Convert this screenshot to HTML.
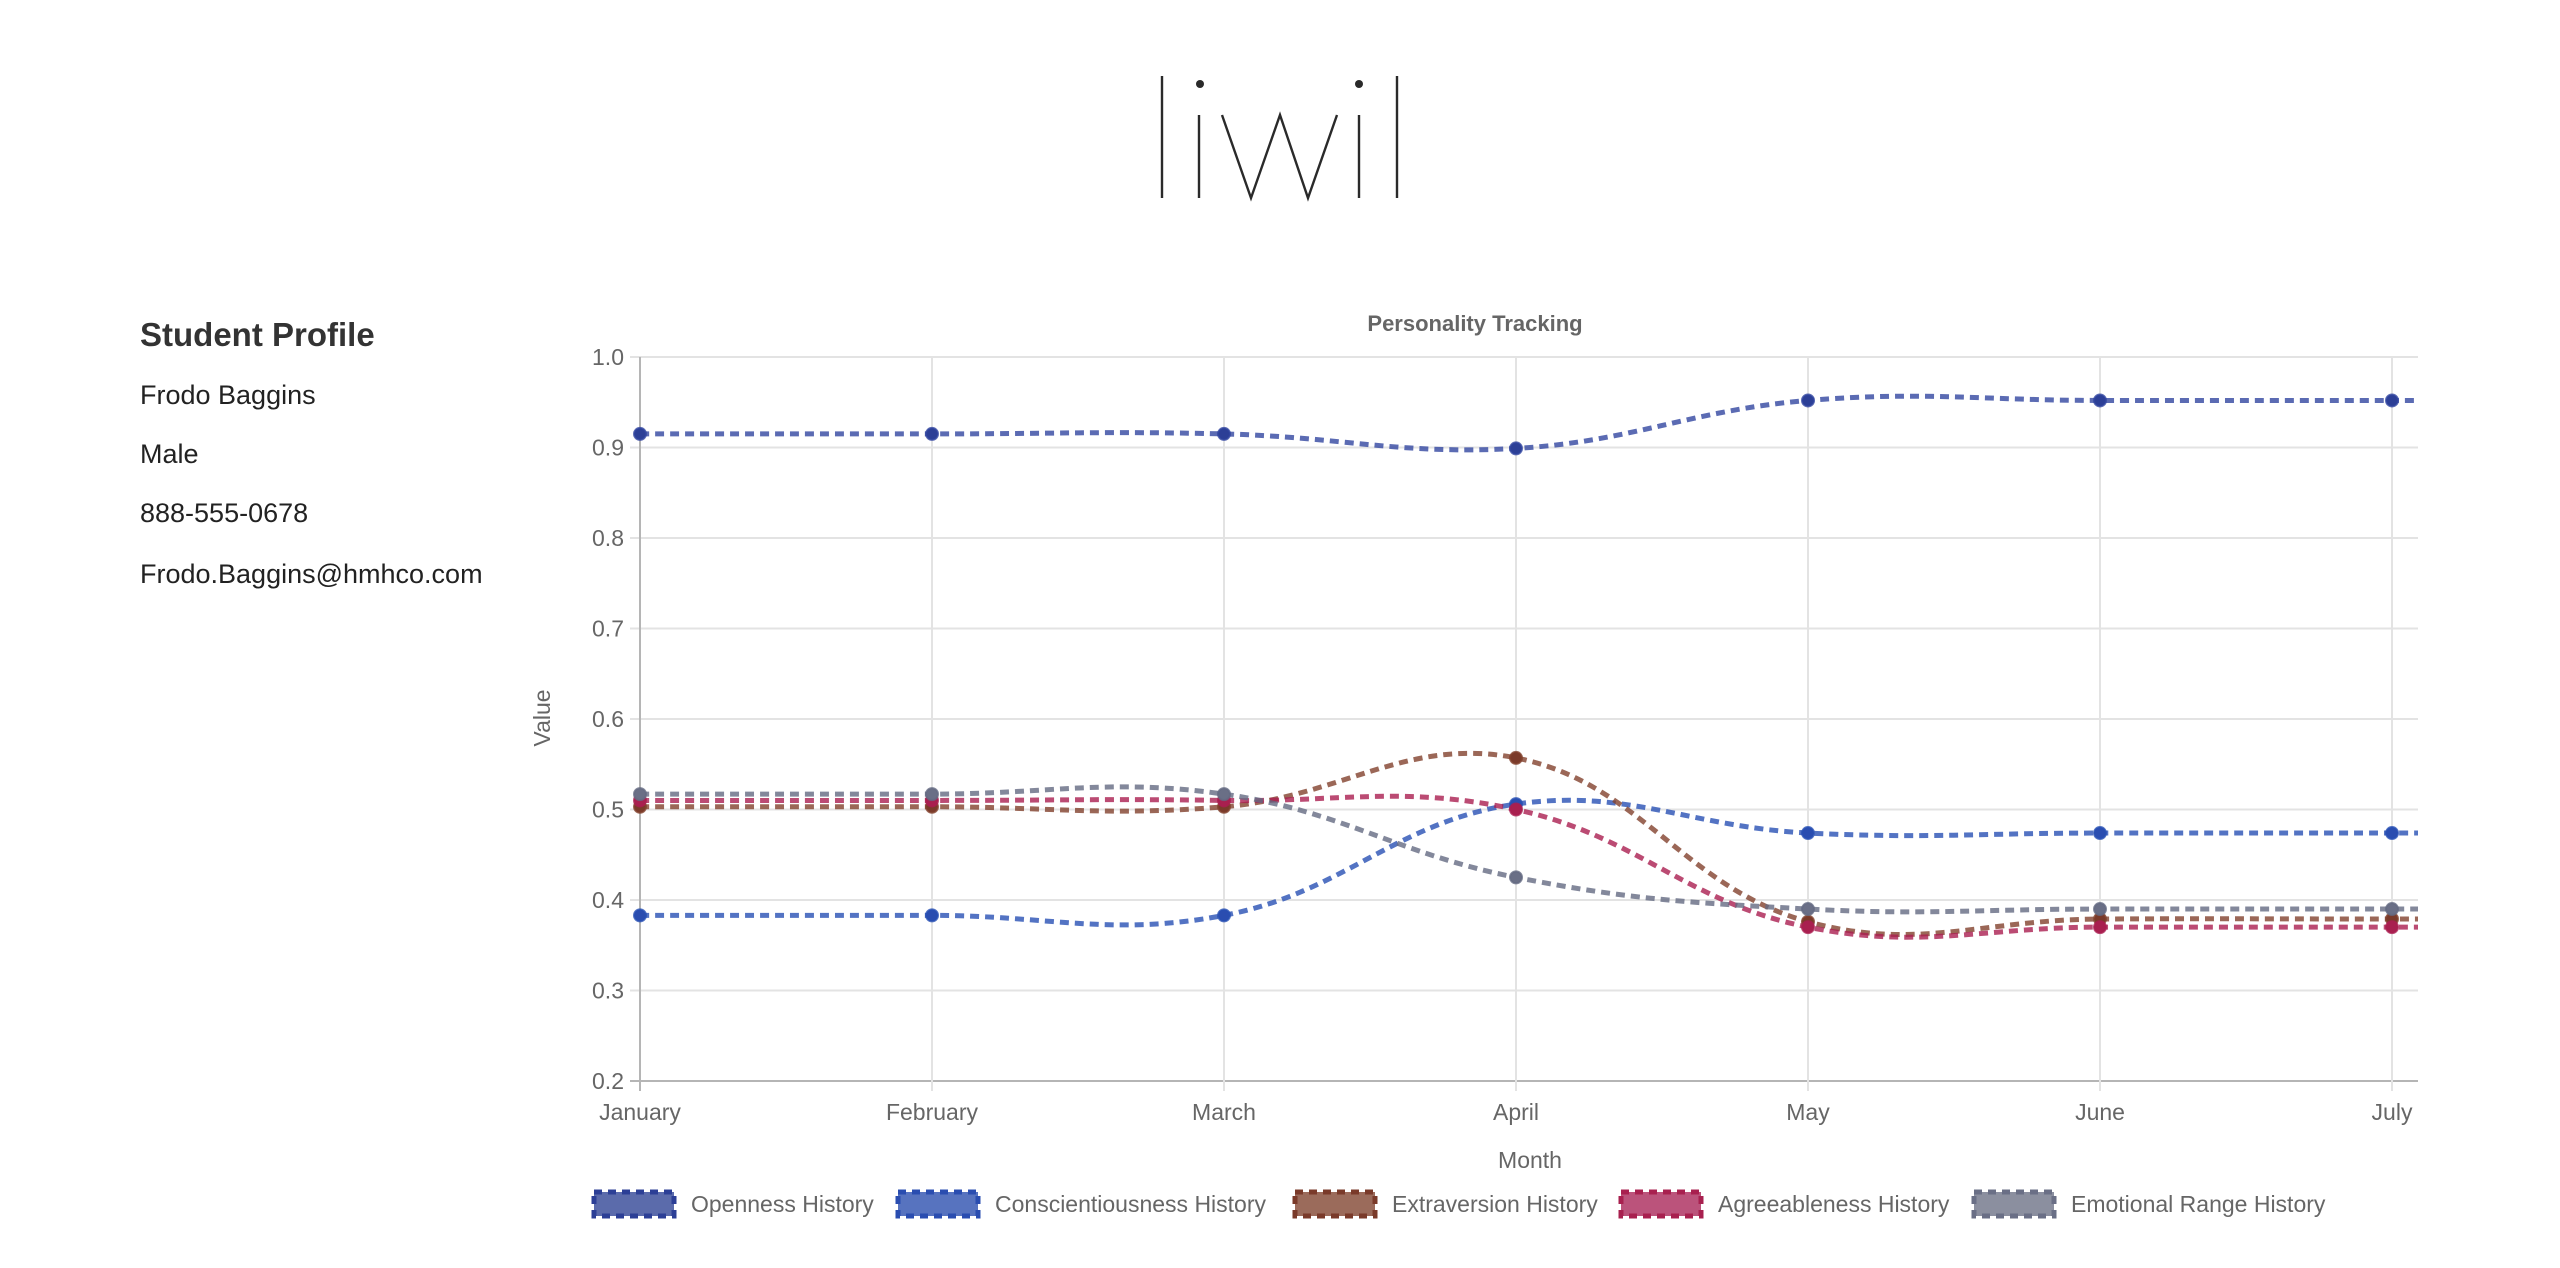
<!DOCTYPE html>
<html><head><meta charset="utf-8"><style>
body{margin:0;width:2560px;height:1268px;background:#fff;overflow:hidden;font-family:"Liberation Sans",sans-serif;color:#333}
#profile{position:absolute;left:140px;top:0}
#profile div{position:absolute;white-space:nowrap;font-size:27px;color:#222}
svg{position:absolute;left:0;top:0}
</style></head><body>
<svg width="2560" height="1268" aria-label="liwil">
<g stroke="#2a2a2a" stroke-width="2.4" fill="none">
<line x1="1162" y1="76" x2="1162" y2="198"/><line x1="1199" y1="115" x2="1199" y2="198"/>
<polyline points="1222,115 1251,198 1280,115 1308,198 1337,115"/>
<line x1="1359" y1="115" x2="1359" y2="198"/><line x1="1397" y1="76" x2="1397" y2="198"/>
</g><circle cx="1200" cy="84" r="4" fill="#2a2a2a"/><circle cx="1359" cy="84" r="4" fill="#2a2a2a"/>
</svg>
<div id="profile">
<div style="top:316px;font-size:33px;font-weight:bold;color:#333">Student Profile</div>
<div style="top:380px">Frodo Baggins</div>
<div style="top:439px">Male</div>
<div style="top:498px">888-555-0678</div>
<div style="top:559px">Frodo.Baggins@hmhco.com</div>
</div>
<svg id="chart" width="2560" height="1268"></svg>
<script>
const months=["January","February","March","April","May","June","July"];
const yTicks=[0.2,0.3,0.4,0.5,0.6,0.7,0.8,0.9,1.0];
const seriesNames=["Openness History","Conscientiousness History","Extraversion History","Agreeableness History","Emotional Range History"];
const openness=[0.915,0.915,0.915,0.899,0.952,0.952,0.952];
const conscientiousness=[0.383,0.383,0.383,0.506,0.474,0.474,0.474];
const extraversion=[0.503,0.503,0.503,0.557,0.376,0.379,0.379];
const agreeableness=[0.510,0.510,0.510,0.500,0.370,0.370,0.370];
const emotionalRange=[0.517,0.517,0.517,0.425,0.390,0.390,0.390];
const seriesData=[openness,conscientiousness,extraversion,agreeableness,emotionalRange];
const lineColors=["rgba(50,70,160,0.8)","rgba(40,80,180,0.8)","rgba(130,65,45,0.8)","rgba(170,30,80,0.8)","rgba(100,106,130,0.8)"];
const pointColors=["#2c3f96","#2a4db0","#7a3a2a","#a8204f","#6a6f86"];
const fillColors=["rgba(50,70,150,0.8)","rgba(45,80,175,0.8)","rgba(130,70,50,0.8)","rgba(170,40,90,0.8)","rgba(110,115,135,0.8)"];
const legendX=[594,898,1295,1621,1974];

const L=640,R=2418,T=357,B=1081,X0=640,XS=292;
const x=i=>X0+i*XS;
const y=v=>B-(v-0.2)/(0.8)*(B-T);
const svg=document.getElementById('chart');
const NS="http://www.w3.org/2000/svg";
function mk(tag,attrs,parent){const e=document.createElementNS(NS,tag);for(const k in attrs)e.setAttribute(k,attrs[k]);(parent||svg).appendChild(e);return e;}

// grid
yTicks.forEach(t=>{
  const g=mk('line',{x1:L-10,x2:R,y1:y(t),y2:y(t),stroke:t===0.2?'#b5b5b5':'#e3e3e3','stroke-width':2});
  
  
  const tx=mk('text',{x:L-16,y:y(t)+8,'text-anchor':'end','font-size':23,fill:'#666','font-family':'Liberation Sans, sans-serif'});
  tx.textContent=t.toFixed(1);
  
  
});
months.forEach((m,i)=>{
  const g=mk('line',{x1:x(i),x2:x(i),y1:T,y2:B+10,stroke:i===0?'#b5b5b5':'#e3e3e3','stroke-width':2});
  
  
  const tx=mk('text',{x:x(i),y:1120,'text-anchor':'middle','font-size':23,fill:'#666','font-family':'Liberation Sans, sans-serif'});
  tx.textContent=m;
  
  
});
const title=mk('text',{x:1475,y:331,'text-anchor':'middle','font-size':22,'font-weight':'bold',fill:'#666','font-family':'Liberation Sans, sans-serif'});
title.textContent="Personality Tracking";


const xt=mk('text',{x:1530,y:1168,'text-anchor':'middle','font-size':23,fill:'#666','font-family':'Liberation Sans, sans-serif'});
xt.textContent="Month";


const yt=mk('text',{x:0,y:0,'text-anchor':'middle','font-size':23,fill:'#666','font-family':'Liberation Sans, sans-serif',transform:'translate(550,718) rotate(-90)'});
yt.textContent="Value";



function spline(pts){
  const t=0.4;const cps=[];
  for(let i=0;i<pts.length;i++){
    const p=pts[Math.max(0,i-1)],c=pts[i],n=pts[Math.min(pts.length-1,i+1)];
    const d01=Math.hypot(c[0]-p[0],c[1]-p[1]),d12=Math.hypot(n[0]-c[0],n[1]-c[1]);
    let s01=d01/(d01+d12)||0,s12=d12/(d01+d12)||0;
    const fa=t*s01,fb=t*s12;
    cps.push({p:[c[0]-fa*(n[0]-p[0]),c[1]-fa*(n[1]-p[1])],n:[c[0]+fb*(n[0]-p[0]),c[1]+fb*(n[1]-p[1])]});
  }
  let d=`M${pts[0][0]},${pts[0][1]}`;
  for(let i=1;i<pts.length;i++){d+=` C${cps[i-1].n[0]},${cps[i-1].n[1]} ${cps[i].p[0]},${cps[i].p[1]} ${pts[i][0]},${pts[i][1]}`;}
  return d;
}
const keys=["openness","conscientiousness","extraversion","agreeableness","emotional-range"];
seriesData.forEach((vals,s)=>{
  const pts=vals.map((v,i)=>[x(i),y(v)]);
  pts.push([R+20,y(vals[vals.length-1])]);
  const pth=mk('path',{d:spline(pts.slice(0,vals.length))+` L${R},${y(vals[vals.length-1])}`,fill:'none',stroke:lineColors[s],'stroke-width':5,'stroke-dasharray':'9 6'});
  
  
});
seriesData.forEach((vals,s)=>{
  vals.forEach((v,i)=>{
    const c=mk('circle',{cx:x(i),cy:y(v),r:6,fill:pointColors[s],stroke:lineColors[s],'stroke-width':2});
    
    
  });
  const r=mk('rect',{x:legendX[s],y:1192,width:80,height:24,fill:fillColors[s],stroke:pointColors[s],'stroke-width':5,'stroke-dasharray':'8 6'});
  
  
  const tx=mk('text',{x:legendX[s]+97,y:1212,'font-size':23,fill:'#666','font-family':'Liberation Sans, sans-serif'});
  tx.textContent=seriesNames[s];
  
  
});
</script>
</body></html>
